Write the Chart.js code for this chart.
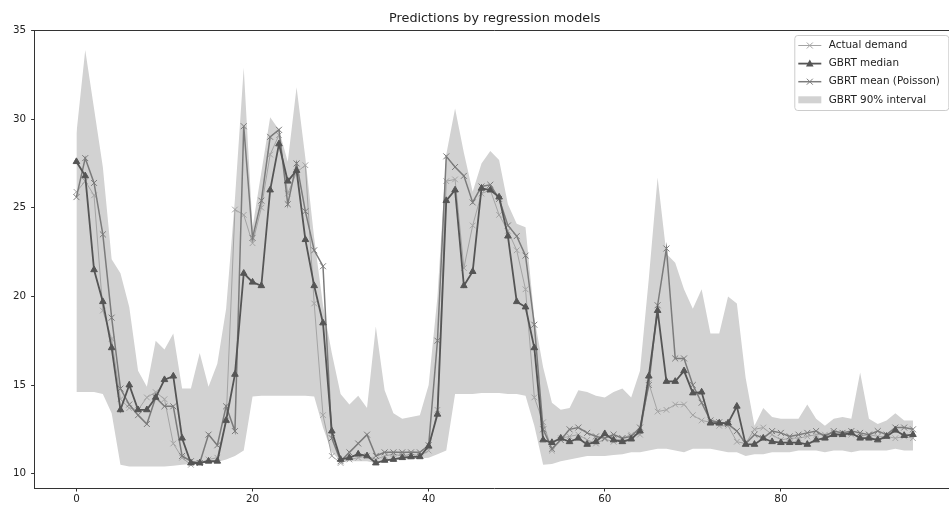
<!DOCTYPE html>
<html>
<head>
<meta charset="utf-8">
<script src="https://cdn.jsdelivr.net/npm/chart.js@4.4.1/dist/chart.umd.min.js"></script>
<style>
  html, body { margin: 0; padding: 0; background: #fff; overflow: hidden; }
  #wrap { width: 960px; height: 510px; position: relative; }
</style>
</head>
<body>
<div id="wrap"><canvas id="chart"></canvas></div>
<script>
// --- Data ---
const actualDemand = [
  25.9, 26.5, 25.7, 19.2, 17.6, 14.2, 13.7, 13.6, 14.3, 14.6,
  14.2, 11.7, 10.9, 10.5, 10.6, 10.8, 10.9, 13.0, 24.9, 24.6,
  23.0, 25.0, 28.0, 29.1, 25.8, 27.0, 27.4, 19.6, 13.3, 11.0,
  10.6, 10.8, 10.9, 11.0, 10.8, 11.0, 11.1, 11.0, 11.1, 11.0,
  11.3, 13.6, 26.5, 26.6, 21.6, 24.0, 25.8, 26.0, 24.6, 23.7,
  22.6, 20.4, 14.3, 12.9, 11.3, 12.0, 12.1, 12.2, 11.9, 11.7,
  11.95, 11.8, 12.0, 12.2, 12.2, 15.1, 13.5, 13.6, 13.9, 13.9,
  13.3, 13.0, 12.9, 12.7, 12.7, 11.8, 11.7, 12.5, 12.6, 12.2,
  11.9, 12.0, 12.0, 12.1, 12.2, 12.2, 12.3, 12.2, 12.2, 12.1,
  12.2, 12.1, 12.1, 12.0, 12.1, 12.0
];

const gbrtMedian = [
  27.6, 26.8, 21.5, 19.7, 17.1, 13.6, 15.0, 13.6, 13.6, 14.3,
  15.3, 15.5, 12.0, 10.6, 10.6, 10.7, 10.7, 13.0, 15.6, 21.3,
  20.8, 20.6, 26.0, 28.6, 26.5, 27.1, 23.2, 20.6, 18.5, 12.4,
  10.8, 10.9, 11.1, 11.0, 10.6, 10.75, 10.8, 10.9, 10.95, 10.95,
  11.55, 13.35, 25.4, 26.0, 20.6, 21.4, 26.1, 26.0, 25.6, 23.4,
  19.7, 19.4, 17.1, 11.9, 11.75, 12.0, 11.8, 12.0, 11.65, 11.8,
  12.25, 11.9, 11.8, 11.95, 12.4, 15.5, 19.2, 15.2, 15.2, 15.8,
  14.55, 14.6, 12.85, 12.85, 12.85, 13.8, 11.65, 11.65, 12.0, 11.8,
  11.75, 11.75, 11.75, 11.65, 11.9, 12.0, 12.2, 12.2, 12.3, 12.0,
  12.0, 11.9, 12.1, 12.45, 12.15, 12.2
];

const gbrtMean = [
  25.6, 27.8, 26.4, 23.5, 18.8, 14.8, 13.9, 13.3, 12.8, 14.3,
  13.8, 13.8, 11.0, 10.7, 10.6, 12.2, 11.6, 13.8, 12.4, 29.6,
  23.3, 25.4, 29.0, 29.4, 25.2, 27.5, 24.8, 22.6, 21.7, 12.0,
  10.7, 11.2, 11.7, 12.2, 11.0, 11.2, 11.2, 11.2, 11.2, 11.2,
  11.6, 17.5, 27.9, 27.3, 26.8, 25.3, 26.2, 26.3, 25.5, 24.0,
  23.4, 22.3, 18.4, 12.5, 11.4, 11.9, 12.5, 12.6, 12.3, 12.1,
  12.0, 12.2, 12.0, 12.1, 12.6, 15.0, 19.5, 22.7, 16.5, 16.5,
  15.0, 14.0, 13.0, 12.9, 12.8, 12.4, 11.7, 12.2, 12.0, 12.4,
  12.3, 12.1, 12.2, 12.3, 12.4, 12.1, 12.4, 12.3, 12.4, 12.3,
  12.2, 12.4, 12.2, 12.6, 12.6, 12.5
];

const intervalLow = [
  14.6, 14.6, 14.6, 14.5, 13.4, 10.5, 10.4, 10.4, 10.4, 10.4,
  10.4, 10.45, 10.5, 10.55, 10.6, 10.6, 10.65, 10.8, 11.0, 11.3,
  14.35, 14.4, 14.4, 14.4, 14.4, 14.4, 14.4, 14.35, 12.6, 11.2,
  10.7, 10.7, 10.7, 10.7, 10.6, 10.7, 10.75, 10.8, 10.8, 10.85,
  10.9, 11.1, 11.3, 14.5, 14.5, 14.5, 14.55, 14.55, 14.55, 14.5,
  14.5, 14.4, 12.7, 10.5, 10.55, 10.7, 10.8, 10.9, 11.0, 11.0,
  11.0, 11.05, 11.1, 11.2, 11.2, 11.3, 11.4, 11.4, 11.3, 11.2,
  11.4, 11.4, 11.4, 11.3, 11.2, 11.2, 11.0, 11.1, 11.1, 11.2,
  11.2, 11.2, 11.3, 11.3, 11.3, 11.2, 11.3, 11.3, 11.2, 11.3,
  11.3, 11.3, 11.3, 11.4, 11.3, 11.3
];

const intervalHigh = [
  29.2, 33.9, 30.6, 27.3, 22.1, 21.3, 19.4, 15.8, 14.9, 17.5,
  17.0, 17.9, 14.8, 14.8, 16.8, 14.9, 16.2, 19.3, 25.5, 32.9,
  23.9, 27.0, 30.1, 29.4, 27.6, 31.8, 27.8, 23.3, 19.5, 16.8,
  14.5, 13.9, 14.4, 13.7, 18.3, 14.7, 13.4, 13.1, 13.2, 13.3,
  15.0, 20.0, 28.0, 30.6, 28.1, 25.9, 27.5, 28.2, 27.7, 25.2,
  24.1, 23.9, 18.8, 16.0, 14.0, 13.6, 13.7, 14.7, 14.6, 14.4,
  14.3, 14.6, 14.8, 14.3, 15.8, 21.0, 26.7, 22.4, 21.9, 20.4,
  19.3, 20.4, 17.9, 17.9, 20.0, 19.6, 15.4, 12.7, 13.7, 13.2,
  13.1, 13.1, 13.1, 13.9, 13.1, 12.7, 13.1, 13.2, 13.1, 15.7,
  13.1, 12.8, 13.0, 13.4, 13.0, 13.0
];

const xTicks = [0, 20, 40, 60, 80];
const yTicks = [10, 15, 20, 25, 30, 35];
const chartTitle = "Predictions by regression models";

// sample index on the x axis
const steps = Array.from({ length: actualDemand.length }, (_, i) => i);
const toPoints = arr => arr.map((v, i) => ({ x: steps[i], y: v }));

// --- Colours ---
const medianColor = "#555555";
const meanColor = "#7b7b7b";
const actualColor = "#a4a4a4";
const bandColor = "#d2d2d2";
const axisColor = "#333333";
const FONT = "DejaVu Sans";

Chart.defaults.font.family = FONT;

// matplotlib-like title, top spine and legend
const decorPlugin = {
  id: "decor",
  afterDraw(chart) {
    const { ctx, chartArea: a } = chart;
    ctx.save();

    // top spine
    ctx.strokeStyle = axisColor;
    ctx.lineWidth = 1;
    ctx.beginPath();
    ctx.moveTo(a.left, a.top);
    ctx.lineTo(a.right, a.top);
    ctx.stroke();

    // title
    ctx.fillStyle = "#222";
    ctx.font = `12.8px "${FONT}"`;
    ctx.textAlign = "center";
    ctx.textBaseline = "alphabetic";
    ctx.fillText(chartTitle, (a.left + a.right) / 2, 22);

    // legend box
    const bw = 154, bh = 75;
    const bx = a.right - 6 - bw, by = a.top + 5;
    const r = 3;
    ctx.beginPath();
    ctx.moveTo(bx + r, by);
    ctx.lineTo(bx + bw - r, by);
    ctx.quadraticCurveTo(bx + bw, by, bx + bw, by + r);
    ctx.lineTo(bx + bw, by + bh - r);
    ctx.quadraticCurveTo(bx + bw, by + bh, bx + bw - r, by + bh);
    ctx.lineTo(bx + r, by + bh);
    ctx.quadraticCurveTo(bx, by + bh, bx, by + bh - r);
    ctx.lineTo(bx, by + r);
    ctx.quadraticCurveTo(bx, by, bx + r, by);
    ctx.closePath();
    ctx.fillStyle = "rgba(255,255,255,0.85)";
    ctx.fill();
    ctx.strokeStyle = "#cccccc";
    ctx.stroke();

    const entries = [
      { text: "Actual demand", color: actualColor, width: 1, marker: "x" },
      { text: "GBRT median", color: medianColor, width: 1.8, marker: "tri" },
      { text: "GBRT mean (Poisson)", color: meanColor, width: 1.5, marker: "x" },
      { text: "GBRT 90% interval", color: bandColor, marker: "patch" }
    ];
    const x0 = bx + 3.5, x1 = bx + 26.5, xm = (x0 + x1) / 2;
    entries.forEach((e, k) => {
      const y = by + 10 + k * 18.1;
      ctx.strokeStyle = e.color;
      ctx.fillStyle = e.color;
      if (e.marker === "patch") {
        ctx.fillRect(x0, y - 3.5, x1 - x0, 7);
      } else {
        ctx.lineWidth = e.width;
        ctx.beginPath();
        ctx.moveTo(x0, y);
        ctx.lineTo(x1, y);
        ctx.stroke();
        if (e.marker === "x") {
          ctx.lineWidth = 1;
          ctx.beginPath();
          ctx.moveTo(xm - 3, y - 3); ctx.lineTo(xm + 3, y + 3);
          ctx.moveTo(xm - 3, y + 3); ctx.lineTo(xm + 3, y - 3);
          ctx.stroke();
        } else {
          ctx.beginPath();
          ctx.moveTo(xm, y - 4);
          ctx.lineTo(xm + 3.8, y + 2.8);
          ctx.lineTo(xm - 3.8, y + 2.8);
          ctx.closePath();
          ctx.fill();
        }
      }
      ctx.fillStyle = "#222";
      ctx.font = `10.4px "${FONT}"`;
      ctx.textAlign = "left";
      ctx.textBaseline = "middle";
      ctx.fillText(e.text, bx + 34, y);
    });

    ctx.restore();
  }
};

new Chart(document.getElementById("chart"), {
  type: "line",
  data: {
    datasets: [
      {
        label: "GBRT median",
        data: toPoints(gbrtMedian),
        borderColor: medianColor,
        borderWidth: 1.8,
        pointStyle: "triangle",
        pointRadius: 3.8,
        pointBackgroundColor: medianColor,
        pointBorderColor: medianColor,
        pointBorderWidth: 1,
        order: 1
      },
      {
        label: "GBRT mean (Poisson)",
        data: toPoints(gbrtMean),
        borderColor: meanColor,
        borderWidth: 1.5,
        pointStyle: "crossRot",
        pointRadius: 4.2,
        pointBorderColor: meanColor,
        pointBorderWidth: 1,
        order: 2
      },
      {
        label: "Actual demand",
        data: toPoints(actualDemand),
        borderColor: actualColor,
        borderWidth: 1,
        pointStyle: "crossRot",
        pointRadius: 4,
        pointBorderColor: actualColor,
        pointBorderWidth: 1,
        order: 3
      },
      {
        label: "interval low",
        data: toPoints(intervalLow),
        borderColor: "rgba(0,0,0,0)",
        borderWidth: 0,
        pointRadius: 0,
        fill: false,
        order: 10
      },
      {
        label: "GBRT 90% interval",
        data: toPoints(intervalHigh),
        borderColor: "rgba(0,0,0,0)",
        borderWidth: 0,
        pointRadius: 0,
        backgroundColor: bandColor,
        fill: "-1",
        order: 9
      }
    ]
  },
  options: {
    responsive: true,
    maintainAspectRatio: false,
    animation: false,
    layout: { padding: { top: 30.5, right: 4, left: 0, bottom: 0 } },
    elements: { line: { tension: 0 } },
    plugins: {
      legend: { display: false },
      tooltip: { enabled: false },
      title: { display: false }
    },
    scales: {
      x: {
        type: "linear",
        min: -4.75,
        max: 99.75,
        afterBuildTicks: s => { s.ticks = xTicks.map(v => ({ value: v })); },
        afterFit: s => { s.height = 22; },
        grid: { drawOnChartArea: false, tickLength: 3.5, tickColor: axisColor, tickWidth: 1 },
        border: { color: axisColor, width: 1 },
        ticks: { color: "#222", font: { size: 10.3 }, padding: 2, maxRotation: 0 }
      },
      y: {
        type: "linear",
        min: 9.19,
        max: 35.0,
        afterBuildTicks: s => { s.ticks = yTicks.map(v => ({ value: v })); },
        afterFit: s => { s.width = 34.6; },
        grid: { drawOnChartArea: false, tickLength: 3.5, tickColor: axisColor, tickWidth: 1 },
        border: { color: axisColor, width: 1 },
        ticks: { color: "#222", font: { size: 10.3 }, padding: 5 }
      }
    }
  },
  plugins: [decorPlugin]
});
</script>
</body>
</html>
